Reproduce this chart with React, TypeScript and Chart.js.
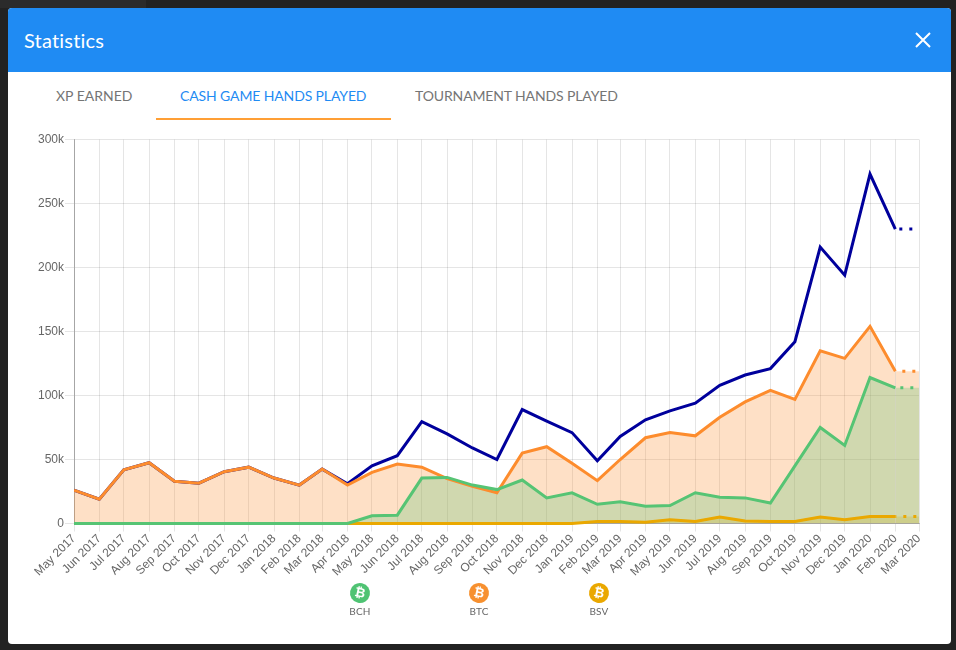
import React, { useEffect, useRef } from "react";
import { Chart, registerables } from "chart.js";

Chart.register(...registerables);

const months = [
  "May 2017", "Jun 2017", "Jul 2017", "Aug 2017", "Sep 2017", "Oct 2017", "Nov 2017", "Dec 2017",
  "Jan 2018", "Feb 2018", "Mar 2018", "Apr 2018", "May 2018", "Jun 2018", "Jul 2018", "Aug 2018",
  "Sep 2018", "Oct 2018", "Nov 2018", "Dec 2018", "Jan 2019", "Feb 2019", "Mar 2019", "Apr 2019",
  "May 2019", "Jun 2019", "Jul 2019", "Aug 2019", "Sep 2019", "Oct 2019", "Nov 2019", "Dec 2019",
  "Jan 2020", "Feb 2020", "Mar 2020",
];

const totalHands = [
  26, 19, 42, 47.5, 33, 31.5, 40.5, 44, 35.5, 30, 42.5, 31, 45, 53, 79.5, 70, 59, 50, 89, 80, 71, 49,
  68, 81, 88, 94, 108, 116, 121, 142, 216, 194, 273, 230, 230,
];
const btcHands = [
  26, 19, 42, 47.5, 33, 31.5, 40.5, 44, 35.5, 30, 42.5, 30, 40, 46.5, 44, 35, 29, 24, 55, 60, 47, 33.5,
  50, 67, 71, 68.5, 83, 95, 104, 97, 135, 129, 154, 119, 119,
];
const bchHands = [
  0, 0, 0, 0, 0, 0, 0, 0, 0, 0, 0, 0, 6, 6.5, 35.5, 36, 30, 26.5, 34, 20, 24, 15,
  17, 13.5, 14, 24, 20.5, 20, 16, 45, 75, 61, 114, 106, 106,
];
const bsvHands = [
  0, 0, 0, 0, 0, 0, 0, 0, 0, 0, 0, 0, 0, 0, 0, 0, 0, 0, 0, 0, 0, 1.5,
  1.5, 1, 3, 1.5, 5, 2, 1.5, 1.5, 5, 3, 5.5, 5.5, 5.5,
];
const yTicks = [0, 50, 100, 150, 200, 250, 300];
const tabs = ["XP EARNED", "CASH GAME HANDS PLAYED", "TOURNAMENT HANDS PLAYED"];
const coins = [
  { label: "BCH", color: "#4fc373", x: 360 },
  { label: "BTC", color: "#f7902f", x: 479 },
  { label: "BSV", color: "#eaa800", x: 599 },
];

const monthIndex: Record<string, number> = {
  Jan: 0, Feb: 1, Mar: 2, Apr: 3, May: 4, Jun: 5, Jul: 6, Aug: 7, Sep: 8, Oct: 9, Nov: 10, Dec: 11,
};
const dayOf = (m: string) => {
  const [mon, yr] = m.split(" ");
  return Date.UTC(Number(yr), monthIndex[mon], 1) / 86400000;
};
const xValues = months.map(dayOf);
const toPoints = (vals: number[]) => vals.map((v, i) => ({ x: xValues[i], y: v * 1000 }));
const lastIdx = months.length - 1;

const grid = "rgba(0,0,0,0.1)";
const axisLine = "rgba(0,0,0,0.28)";
const ff = "Lato, sans-serif";

export default function App() {
  const ref = useRef<HTMLCanvasElement>(null);
  useEffect(() => {
    const mk = (label: string, vals: number[], color: string, bg: string | null, order: number, dashOffset: number) => ({
      label,
      data: toPoints(vals),
      borderColor: color,
      backgroundColor: bg ?? "transparent",
      borderWidth: 3,
      pointRadius: 0,
      tension: 0,
      fill: bg ? "origin" : false,
      order,
      clip: { left: 0, top: 0, right: 0, bottom: 3 },
      segment: {
        borderDash: (ctx: any) => (ctx.p1DataIndex === lastIdx ? [3, 7] : undefined),
        borderDashOffset: (ctx: any) => (ctx.p1DataIndex === lastIdx ? dashOffset : undefined),
      },
    });
    const chart = new Chart(ref.current!, {
      type: "line",
      data: {
        datasets: [
          mk("BCH", bchHands, "#56c474", "rgba(86,196,116,0.27)", 1, 5),
          mk("BSV", bsvHands, "#eaa800", "rgba(234,168,0,0.25)", 2, 2),
          mk("BTC", btcHands, "#fd8c2d", "rgba(253,140,45,0.27)", 3, 3),
          mk("Total", totalHands, "#00009c", null, 4, 6),
        ] as any,
      },
      options: {
        responsive: false,
        animation: false,
        layout: { padding: { left: 0, right: 16, top: 9.5, bottom: 0 } },
        plugins: {
          legend: { display: false },
          tooltip: { enabled: false },
          filler: { drawTime: "beforeDatasetsDraw" },
        },
        scales: {
          x: {
            type: "linear",
            bounds: "data",
            min: xValues[0],
            max: xValues[lastIdx],
            afterBuildTicks: (s: any) => {
              s.ticks = xValues.map((v) => ({ value: v }));
            },
            afterFit: (s: any) => {
              s.height = 76.5;
            },
            grid: { color: grid, tickLength: 8 },
            border: { color: axisLine },
            ticks: {
              autoSkip: false,
              maxRotation: 45,
              minRotation: 45,
              padding: 0,
              color: "#666",
              font: { family: "'Liberation Sans', Arial, sans-serif", size: 12 },
              callback: (_v: any, i: number) => months[i],
            },
          },
          y: {
            min: 0,
            max: 300000,
            afterBuildTicks: (s: any) => {
              s.ticks = yTicks.map((v) => ({ value: v * 1000 }));
            },
            afterFit: (s: any) => {
              s.width = 54;
            },
            grid: { color: grid, tickLength: 9 },
            border: { color: axisLine },
            ticks: {
              padding: 1,
              color: "#666",
              font: { family: "'Liberation Sans', Arial, sans-serif", size: 12 },
              callback: (v: any) => (v === 0 ? "0" : `${v / 1000}k`),
            },
          },
        },
      } as any,
    });
    return () => chart.destroy();
  }, []);

  return (
    <div style={{ position: "fixed", inset: 0, background: "#222", overflow: "hidden" }}>
      <div style={{ position: "absolute", left: 0, top: 0, width: 146, height: 8, background: "#2b2b2b" }} />
      <div
        style={{
          position: "absolute", left: 8, top: 8, width: 943, height: 636, background: "#fff",
          borderRadius: 4, overflow: "hidden", fontFamily: ff,
        }}
      >
        <div style={{ position: "absolute", left: 0, top: 0, width: "100%", height: 64, background: "#1f8bf3" }}>
          <div style={{ position: "absolute", left: 16, top: 19, color: "#fff", fontSize: 20, lineHeight: "27px", letterSpacing: 0.2 }}>
            Statistics
          </div>
          <svg style={{ position: "absolute", left: 907, top: 24 }} width="16" height="16" viewBox="0 0 16 16">
            <path d="M1 1L15 15M15 1L1 15" stroke="#fff" strokeWidth="2" fill="none" />
          </svg>
        </div>
        {tabs.map((t, i) => (
          <div
            key={t}
            style={{
              position: "absolute", left: [48, 172, 407][i], top: 79, fontSize: 14, lineHeight: "18px",
              whiteSpace: "nowrap", color: i === 1 ? "#1f8bf3" : "#757575", letterSpacing: i === 0 ? 0 : -0.13,
            }}
          >
            {t}
          </div>
        ))}
        <div style={{ position: "absolute", left: 148, top: 110, width: 235, height: 2, background: "#ff9f35" }} />
      </div>
      <canvas
        ref={ref}
        width={915}
        height={470}
        style={{ position: "absolute", left: 20, top: 130, width: 915, height: 470 }}
      />
      {coins.map((c) => (
        <div key={c.label} style={{ position: "absolute", left: c.x - 30, top: 583, width: 60, textAlign: "center", fontFamily: ff }}>
          <div
            style={{
              width: 20, height: 20, borderRadius: 10, background: c.color, margin: "0 auto", color: "#fff",
              fontFamily: "'DejaVu Sans', sans-serif", fontWeight: 700, fontSize: 13, lineHeight: "20px",
              transform: "rotate(12deg)",
            }}
          >
            ₿
          </div>
          <div style={{ fontSize: 10, lineHeight: "13px", color: "#666", marginTop: 2, letterSpacing: 0.2 }}>{c.label}</div>
        </div>
      ))}
    </div>
  );
}
